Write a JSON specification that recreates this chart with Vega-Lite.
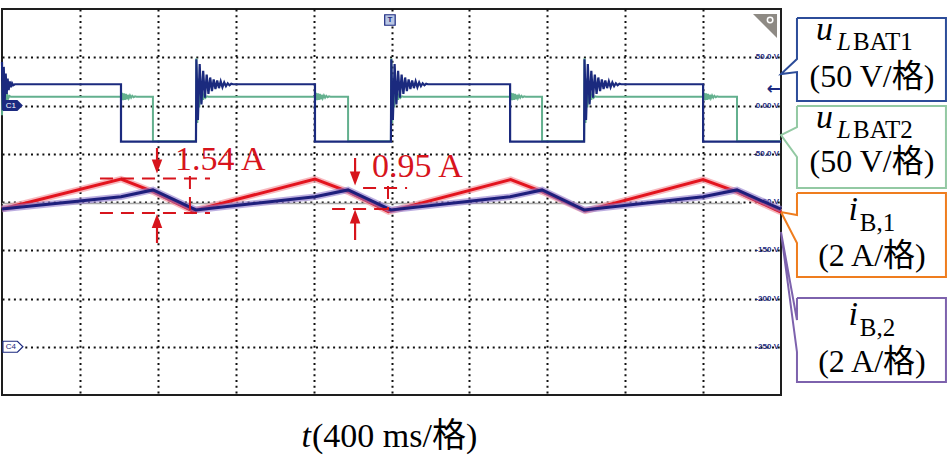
{
  "$schema": "https://vega.github.io/schema/vega-lite/v6.json",
  "width": 779,
  "height": 386,
  "autosize": {"type": "none"},
  "padding": {"left": 2, "top": 9, "right": 167, "bottom": 69},
  "background": "white",
  "config": {
    "view": {"stroke": "#1e1e1e", "strokeWidth": 2},
    "text": {"font": "Liberation Serif, Noto Sans CJK SC"}
  },
  "datasets": {
    "uLBAT1": [
      {"t": 0, "v": 45}, {"t": 4, "v": -5}, {"t": 9, "v": 40}, {"t": 14, "v": 5}, {"t": 19, "v": 33}, {"t": 24, "v": 12}, {"t": 29, "v": 28}, {"t": 34, "v": 16}, {"t": 40, "v": 25}, {"t": 46, "v": 19}, {"t": 52, "v": 23}, {"t": 58, "v": 21}, {"t": 66, "v": 22},
      {"t": 611, "v": 22}, {"t": 611, "v": -37.5},
      {"t": 996, "v": -37.5}, {"t": 998, "v": 48}, {"t": 1006, "v": -15}, {"t": 1015, "v": 43}, {"t": 1024, "v": 1}, {"t": 1033, "v": 36}, {"t": 1042, "v": 8}, {"t": 1051, "v": 32}, {"t": 1060, "v": 12}, {"t": 1069, "v": 29}, {"t": 1078, "v": 15}, {"t": 1087, "v": 27}, {"t": 1096, "v": 17}, {"t": 1105, "v": 26}, {"t": 1114, "v": 18}, {"t": 1123, "v": 25}, {"t": 1132, "v": 19}, {"t": 1141, "v": 24}, {"t": 1150, "v": 20}, {"t": 1159, "v": 23}, {"t": 1168, "v": 21}, {"t": 1177, "v": 22.5}, {"t": 1186, "v": 22},
      {"t": 1607, "v": 22}, {"t": 1607, "v": -37.5},
      {"t": 1997, "v": -37.5}, {"t": 1999, "v": 48}, {"t": 2007, "v": -15}, {"t": 2016, "v": 43}, {"t": 2025, "v": 1}, {"t": 2034, "v": 36}, {"t": 2043, "v": 8}, {"t": 2052, "v": 32}, {"t": 2061, "v": 12}, {"t": 2070, "v": 29}, {"t": 2079, "v": 15}, {"t": 2088, "v": 27}, {"t": 2097, "v": 17}, {"t": 2106, "v": 26}, {"t": 2115, "v": 18}, {"t": 2124, "v": 25}, {"t": 2133, "v": 19}, {"t": 2142, "v": 24}, {"t": 2151, "v": 20}, {"t": 2160, "v": 23}, {"t": 2169, "v": 21}, {"t": 2178, "v": 22.5}, {"t": 2187, "v": 22},
      {"t": 2609, "v": 22}, {"t": 2609, "v": -37.5},
      {"t": 2989, "v": -37.5}, {"t": 2991, "v": 48}, {"t": 2999, "v": -15}, {"t": 3008, "v": 43}, {"t": 3017, "v": 1}, {"t": 3026, "v": 36}, {"t": 3035, "v": 8}, {"t": 3044, "v": 32}, {"t": 3053, "v": 12}, {"t": 3062, "v": 29}, {"t": 3071, "v": 15}, {"t": 3080, "v": 27}, {"t": 3089, "v": 17}, {"t": 3098, "v": 26}, {"t": 3107, "v": 18}, {"t": 3116, "v": 25}, {"t": 3125, "v": 19}, {"t": 3134, "v": 24}, {"t": 3143, "v": 20}, {"t": 3152, "v": 23}, {"t": 3161, "v": 21}, {"t": 3170, "v": 22.5}, {"t": 3179, "v": 22},
      {"t": 3600, "v": 22}, {"t": 3600, "v": -37.5}, {"t": 4000, "v": -37.5}
    ],
    "uLBAT2": [
      {"t": 0, "v": -10}, {"t": 4, "v": 25}, {"t": 9, "v": 0}, {"t": 14, "v": 17}, {"t": 19, "v": 4}, {"t": 25, "v": 13}, {"t": 31, "v": 7}, {"t": 38, "v": 10}, {"t": 46, "v": 9},
      {"t": 611, "v": 9}, {"t": 616, "v": 13}, {"t": 621, "v": 5.5}, {"t": 626, "v": 12.5}, {"t": 631, "v": 6}, {"t": 636, "v": 12}, {"t": 641, "v": 6.5}, {"t": 646, "v": 11}, {"t": 651, "v": 7.5}, {"t": 657, "v": 10.5}, {"t": 663, "v": 8}, {"t": 669, "v": 10}, {"t": 676, "v": 8.5}, {"t": 683, "v": 9.5}, {"t": 691, "v": 9},
      {"t": 775, "v": 9}, {"t": 775, "v": -37},
      {"t": 996, "v": -37}, {"t": 998, "v": 49}, {"t": 1003, "v": -18}, {"t": 1008, "v": 28}, {"t": 1013, "v": -2}, {"t": 1018, "v": 19}, {"t": 1023, "v": 3}, {"t": 1028, "v": 14}, {"t": 1033, "v": 6}, {"t": 1039, "v": 11}, {"t": 1045, "v": 8}, {"t": 1052, "v": 9.5}, {"t": 1060, "v": 9},
      {"t": 1607, "v": 9}, {"t": 1612, "v": 13}, {"t": 1617, "v": 5.5}, {"t": 1622, "v": 12.5}, {"t": 1627, "v": 6}, {"t": 1632, "v": 12}, {"t": 1637, "v": 6.5}, {"t": 1642, "v": 11}, {"t": 1647, "v": 7.5}, {"t": 1653, "v": 10.5}, {"t": 1659, "v": 8}, {"t": 1665, "v": 10}, {"t": 1672, "v": 8.5}, {"t": 1679, "v": 9.5}, {"t": 1687, "v": 9},
      {"t": 1777, "v": 9}, {"t": 1777, "v": -37},
      {"t": 1997, "v": -37}, {"t": 1999, "v": 49}, {"t": 2004, "v": -18}, {"t": 2009, "v": 28}, {"t": 2014, "v": -2}, {"t": 2019, "v": 19}, {"t": 2024, "v": 3}, {"t": 2029, "v": 14}, {"t": 2034, "v": 6}, {"t": 2040, "v": 11}, {"t": 2046, "v": 8}, {"t": 2053, "v": 9.5}, {"t": 2061, "v": 9},
      {"t": 2609, "v": 9}, {"t": 2614, "v": 13}, {"t": 2619, "v": 5.5}, {"t": 2624, "v": 12.5}, {"t": 2629, "v": 6}, {"t": 2634, "v": 12}, {"t": 2639, "v": 6.5}, {"t": 2644, "v": 11}, {"t": 2649, "v": 7.5}, {"t": 2655, "v": 10.5}, {"t": 2661, "v": 8}, {"t": 2667, "v": 10}, {"t": 2674, "v": 8.5}, {"t": 2681, "v": 9.5}, {"t": 2689, "v": 9},
      {"t": 2773, "v": 9}, {"t": 2773, "v": -37},
      {"t": 2989, "v": -37}, {"t": 2991, "v": 49}, {"t": 2996, "v": -18}, {"t": 3001, "v": 28}, {"t": 3006, "v": -2}, {"t": 3011, "v": 19}, {"t": 3016, "v": 3}, {"t": 3021, "v": 14}, {"t": 3026, "v": 6}, {"t": 3032, "v": 11}, {"t": 3038, "v": 8}, {"t": 3045, "v": 9.5}, {"t": 3053, "v": 9},
      {"t": 3600, "v": 9}, {"t": 3605, "v": 13}, {"t": 3610, "v": 5.5}, {"t": 3615, "v": 12.5}, {"t": 3620, "v": 6}, {"t": 3625, "v": 12}, {"t": 3630, "v": 6.5}, {"t": 3635, "v": 11}, {"t": 3640, "v": 7.5}, {"t": 3646, "v": 10.5}, {"t": 3652, "v": 8}, {"t": 3658, "v": 10}, {"t": 3665, "v": 8.5}, {"t": 3672, "v": 9.5}, {"t": 3680, "v": 9},
      {"t": 3774, "v": 9}, {"t": 3774, "v": -37}, {"t": 4000, "v": -37}
    ],
    "iB1": [
      {"t": 0, "i": -0.29}, {"t": 611, "i": 0.95}, {"t": 775, "i": 0.43}, {"t": 978, "i": -0.37},
      {"t": 1607, "i": 0.95}, {"t": 1777, "i": 0.43}, {"t": 1985, "i": -0.4},
      {"t": 2612, "i": 0.93}, {"t": 2776, "i": 0.42}, {"t": 2995, "i": -0.37},
      {"t": 3600, "i": 0.93}, {"t": 3774, "i": 0.42}, {"t": 4000, "i": -0.42}
    ],
    "iB2": [
      {"t": 0, "i": -0.29}, {"t": 611, "i": 0.22}, {"t": 775, "i": 0.5}, {"t": 996, "i": -0.33},
      {"t": 1607, "i": 0.22}, {"t": 1777, "i": 0.5}, {"t": 1997, "i": -0.33},
      {"t": 2609, "i": 0.22}, {"t": 2773, "i": 0.5}, {"t": 2989, "i": -0.33},
      {"t": 3600, "i": 0.22}, {"t": 3774, "i": 0.5}, {"t": 4000, "i": -0.3}
    ],
    "zeroRef": [{"t": 0, "i": -0.06}, {"t": 3800, "i": -0.06}],
    "scaleLabels": [
      {"t": 4000, "v": 50, "s": "50.0 V"}, {"t": 4000, "v": 0, "s": "0.00 V"}, {"t": 4000, "v": -50, "s": "-50.0 V"},
      {"t": 4000, "v": -100, "s": "-100 V"}, {"t": 4000, "v": -150, "s": "-150 V"}, {"t": 4000, "v": -200, "s": "-200 V"}, {"t": 4000, "v": -250, "s": "-250 V"}
    ],
    "boxes": [
      {"box": "b1", "t": 4082, "v": 90.7}, {"box": "b1", "t": 4847, "v": 90.7}, {"box": "b1", "t": 4847, "v": 4.7}, {"box": "b1", "t": 4082, "v": 4.7}, {"box": "b1", "t": 4082, "v": 34.7}, {"box": "b1", "t": 4000, "v": 32.6}, {"box": "b1", "t": 4082, "v": 48.2}, {"box": "b1", "t": 4082, "v": 90.7},
      {"box": "b2", "t": 4082, "v": -0.5}, {"box": "b2", "t": 4847, "v": -0.5}, {"box": "b2", "t": 4847, "v": -85.5}, {"box": "b2", "t": 4082, "v": -85.5}, {"box": "b2", "t": 4082, "v": -53.4}, {"box": "b2", "t": 4000, "v": -30.6}, {"box": "b2", "t": 4082, "v": -22.3}, {"box": "b2", "t": 4082, "v": -0.5},
      {"box": "b3", "t": 4082, "v": -90.7}, {"box": "b3", "t": 4847, "v": -90.7}, {"box": "b3", "t": 4847, "v": -177.7}, {"box": "b3", "t": 4082, "v": -177.7}, {"box": "b3", "t": 4082, "v": -142.5}, {"box": "b3", "t": 4000, "v": -110.4}, {"box": "b3", "t": 4082, "v": -113.5}, {"box": "b3", "t": 4082, "v": -90.7},
      {"box": "b4", "t": 4082, "v": -199.5}, {"box": "b4", "t": 4847, "v": -199.5}, {"box": "b4", "t": 4847, "v": -286.5}, {"box": "b4", "t": 4082, "v": -286.5}, {"box": "b4", "t": 4082, "v": -255.4}, {"box": "b4", "t": 4000, "v": -131.1}, {"box": "b4", "t": 4082, "v": -222.3}, {"box": "b4", "t": 4082, "v": -199.5}
    ],
    "bigItalic": [
      {"t": 4267, "v": 67.9, "s": "u"}, {"t": 4267, "v": -23.3, "s": "u"},
      {"t": 4395, "v": -118.7, "s": "i"}, {"t": 4395, "v": -227.5, "s": "i"},
      {"t": 1587, "v": -353.9, "s": "t"}
    ],
    "subItalic": [
      {"t": 4287, "v": 57.5, "s": "L"}, {"t": 4287, "v": -33.7, "s": "L"}
    ],
    "subUpright": [
      {"t": 4370, "v": 57.5, "s": "BAT1"}, {"t": 4370, "v": -33.7, "s": "BAT2"},
      {"t": 4405, "v": -130.1, "s": "B,1"}, {"t": 4405, "v": -238.9, "s": "B,2"}
    ],
    "unitLines": [
      {"t": 4467, "v": 19.2, "s": "(50 V/格)"}, {"t": 4467, "v": -68.9, "s": "(50 V/格)"},
      {"t": 4467, "v": -166.3, "s": "(2 A/格)"}, {"t": 4467, "v": -276.2, "s": "(2 A/格)"}
    ],
    "timeUnit": [{"t": 1592, "v": -353.9, "s": "(400 ms/格)"}],
    "dashes": [
      {"t": 503, "t2": 1068, "i": 0.97, "i2": 0.97},
      {"t": 503, "t2": 1068, "i": -0.456, "i2": -0.456},
      {"t": 965, "t2": 965, "i": 1.078, "i2": -0.415},
      {"t": 1854, "t2": 2080, "i": 0.58, "i2": 0.58},
      {"t": 1695, "t2": 1993, "i": -0.29, "i2": -0.29},
      {"t": 1982, "t2": 1982, "i": 0.663, "i2": -0.332}
    ],
    "shafts": [
      {"t": 796, "i": 2.238, "i2": 1.6},
      {"t": 796, "i": -1.7, "i2": -0.9},
      {"t": 1813, "i": 1.824, "i2": 1.1},
      {"t": 1813, "i": -1.575, "i2": -0.75}
    ],
    "headsDown": [{"t": 796, "i": 1.471}, {"t": 1813, "i": 0.974}],
    "headsUp": [{"t": 796, "i": -0.788}, {"t": 1813, "i": -0.601}],
    "deltaText": [
      {"t": 888, "i": 1.327, "s": "1.54 A"},
      {"t": 1900, "i": 1.036, "s": "0.95 A"}
    ]
  },
  "encoding": {
    "x": {
      "field": "t",
      "type": "quantitative",
      "scale": {"domain": [0, 4000], "nice": false, "zero": false},
      "axis": {
        "values": [400, 800, 1200, 1600, 2000, 2400, 2800, 3200, 3600],
        "grid": true, "gridDash": [2, 3.7], "gridColor": "#111111", "gridWidth": 2, "gridOpacity": 1,
        "labels": false, "ticks": false, "domain": false, "title": null
      }
    }
  },
  "layer": [
    {
      "encoding": {
        "y": {
          "field": "v",
          "type": "quantitative",
          "scale": {"domain": [-300, 100], "nice": false, "zero": false},
          "axis": {
            "values": [-250, -200, -150, -100, -50, 0, 50],
            "grid": true, "gridDash": [2, 3.7], "gridColor": "#111111", "gridWidth": 2, "gridOpacity": 1,
            "labels": false, "ticks": false, "domain": false, "title": null
          }
        }
      },
      "layer": [
        {
          "data": {"name": "scaleLabels"},
          "mark": {"type": "text", "align": "right", "baseline": "middle", "dx": -2, "font": "Liberation Sans", "fontSize": 8, "fontWeight": "bold", "color": "#1c2a80"},
          "encoding": {"text": {"field": "s"}}
        },
        {
          "data": {"name": "uLBAT2"},
          "mark": {"type": "line", "color": "#63b08e", "strokeWidth": 2},
          "encoding": {"order": {"value": null}}
        },
        {
          "data": {"name": "uLBAT1"},
          "mark": {"type": "line", "color": "#1b2a7e", "strokeWidth": 2.2},
          "encoding": {"order": {"value": null}}
        },
        {
          "data": {"values": [{"t": 56, "v": 0}]},
          "mark": {"type": "point", "shape": "M -1 -0.55 L 0.45 -0.55 L 1 0 L 0.45 0.55 L -1 0.55 Z", "size": 400, "filled": true, "color": "#1c2a80", "opacity": 1},
          "encoding": {}
        },
        {
          "data": {"values": [{"t": 56, "v": 0, "s": "C1"}]},
          "mark": {"type": "text", "font": "Liberation Sans", "fontSize": 8, "color": "white", "dx": -2, "baseline": "middle"},
          "encoding": {"text": {"field": "s"}}
        },
        {
          "data": {"values": [{"t": 56, "v": -250}]},
          "mark": {"type": "point", "shape": "M -1 -0.55 L 0.45 -0.55 L 1 0 L 0.45 0.55 L -1 0.55 Z", "size": 400, "filled": true, "fill": "white", "stroke": "#1c2a80", "strokeWidth": 1.2, "opacity": 1},
          "encoding": {}
        },
        {
          "data": {"values": [{"t": 56, "v": -250, "s": "C4"}]},
          "mark": {"type": "text", "font": "Liberation Sans", "fontSize": 8, "color": "#1c2a80", "dx": -2, "baseline": "middle"},
          "encoding": {"text": {"field": "s"}}
        },
        {
          "data": {"values": [{"t": 1992, "v": 88.6}]},
          "mark": {"type": "point", "shape": "square", "size": 110, "filled": true, "fill": "#b9c7e4", "stroke": "#1c2a80", "strokeWidth": 1.2, "opacity": 1},
          "encoding": {}
        },
        {
          "data": {"values": [{"t": 1992, "v": 88.6, "s": "T"}]},
          "mark": {"type": "text", "font": "Liberation Sans", "fontSize": 8, "fontWeight": "bold", "color": "#1c2a80", "baseline": "middle"},
          "encoding": {"text": {"field": "s"}}
        },
        {
          "data": {"values": [{"t": 3918, "v": 82.4}]},
          "mark": {"type": "point", "shape": "M -1 -1 L 1 -1 L 1 1 Z", "size": 576, "filled": true, "color": "#8e8a84", "opacity": 1},
          "encoding": {}
        },
        {
          "data": {"values": [{"t": 3944, "v": 88.6}]},
          "mark": {"type": "point", "shape": "circle", "size": 30, "filled": false, "stroke": "white", "strokeWidth": 1.5, "opacity": 1},
          "encoding": {}
        },
        {
          "data": {"values": [{"t": 3964, "v": 17.1, "s": "←"}]},
          "mark": {"type": "text", "font": "DejaVu Sans", "fontWeight": "bold", "fontSize": 17, "color": "#1c2a80", "baseline": "middle"},
          "encoding": {"text": {"field": "s"}}
        },
        {
          "data": {"name": "boxes"},
          "mark": {"type": "line", "strokeWidth": 2},
          "encoding": {
            "color": {"field": "box", "type": "nominal", "scale": {"domain": ["b1", "b2", "b3", "b4"], "range": ["#2c4c99", "#93c9a3", "#ef7d1e", "#7d62ad"]}, "legend": null},
            "order": {"value": null}
          }
        },
        {
          "data": {"name": "bigItalic"},
          "mark": {"type": "text", "align": "right", "baseline": "alphabetic", "fontSize": 34, "fontStyle": "italic", "color": "black"},
          "encoding": {"text": {"field": "s"}}
        },
        {
          "data": {"name": "subItalic"},
          "mark": {"type": "text", "align": "left", "baseline": "alphabetic", "fontSize": 25, "fontStyle": "italic", "color": "black"},
          "encoding": {"text": {"field": "s"}}
        },
        {
          "data": {"name": "subUpright"},
          "mark": {"type": "text", "align": "left", "baseline": "alphabetic", "fontSize": 25, "color": "black"},
          "encoding": {"text": {"field": "s"}}
        },
        {
          "data": {"name": "unitLines"},
          "mark": {"type": "text", "align": "center", "baseline": "alphabetic", "fontSize": 32, "color": "black"},
          "encoding": {"text": {"field": "s"}}
        },
        {
          "data": {"name": "timeUnit"},
          "mark": {"type": "text", "align": "left", "baseline": "alphabetic", "fontSize": 34, "color": "black"},
          "encoding": {"text": {"field": "s"}}
        }
      ]
    },
    {
      "encoding": {
        "y": {"field": "i", "type": "quantitative", "scale": {"domain": [-8, 8], "nice": false, "zero": false}, "axis": null}
      },
      "layer": [
        {
          "data": {"name": "zeroRef"},
          "mark": {"type": "line", "color": "#a8a8a8", "strokeWidth": 1.5},
          "encoding": {}
        },
        {
          "data": {"name": "iB1"},
          "mark": {"type": "line", "color": "#f39aa3", "strokeWidth": 6.5, "opacity": 0.7},
          "encoding": {}
        },
        {
          "data": {"name": "iB1"},
          "mark": {"type": "line", "color": "#e3141e", "strokeWidth": 3},
          "encoding": {}
        },
        {
          "data": {"name": "iB2"},
          "mark": {"type": "line", "color": "#8f78cc", "strokeWidth": 6.5, "opacity": 0.6},
          "encoding": {}
        },
        {
          "data": {"name": "iB2"},
          "mark": {"type": "line", "color": "#1e1f7c", "strokeWidth": 3},
          "encoding": {}
        },
        {
          "data": {"name": "dashes"},
          "mark": {"type": "rule", "color": "#d7141c", "strokeWidth": 2, "strokeDash": [13, 8]},
          "encoding": {"x2": {"field": "t2"}, "y2": {"field": "i2"}}
        },
        {
          "data": {"name": "shafts"},
          "mark": {"type": "rule", "color": "#d7141c", "strokeWidth": 2.2},
          "encoding": {"y2": {"field": "i2"}}
        },
        {
          "data": {"name": "headsDown"},
          "mark": {"type": "point", "shape": "M -0.75 -1 L 0.75 -1 L 0 1 Z", "size": 196, "filled": true, "color": "#d7141c", "opacity": 1},
          "encoding": {}
        },
        {
          "data": {"name": "headsUp"},
          "mark": {"type": "point", "shape": "M -0.75 1 L 0.75 1 L 0 -1 Z", "size": 196, "filled": true, "color": "#d7141c", "opacity": 1},
          "encoding": {}
        },
        {
          "data": {"name": "deltaText"},
          "mark": {"type": "text", "align": "left", "baseline": "alphabetic", "fontSize": 34, "color": "#d7141c"},
          "encoding": {"text": {"field": "s"}}
        }
      ]
    }
  ],
  "resolve": {"scale": {"y": "independent"}}
}
